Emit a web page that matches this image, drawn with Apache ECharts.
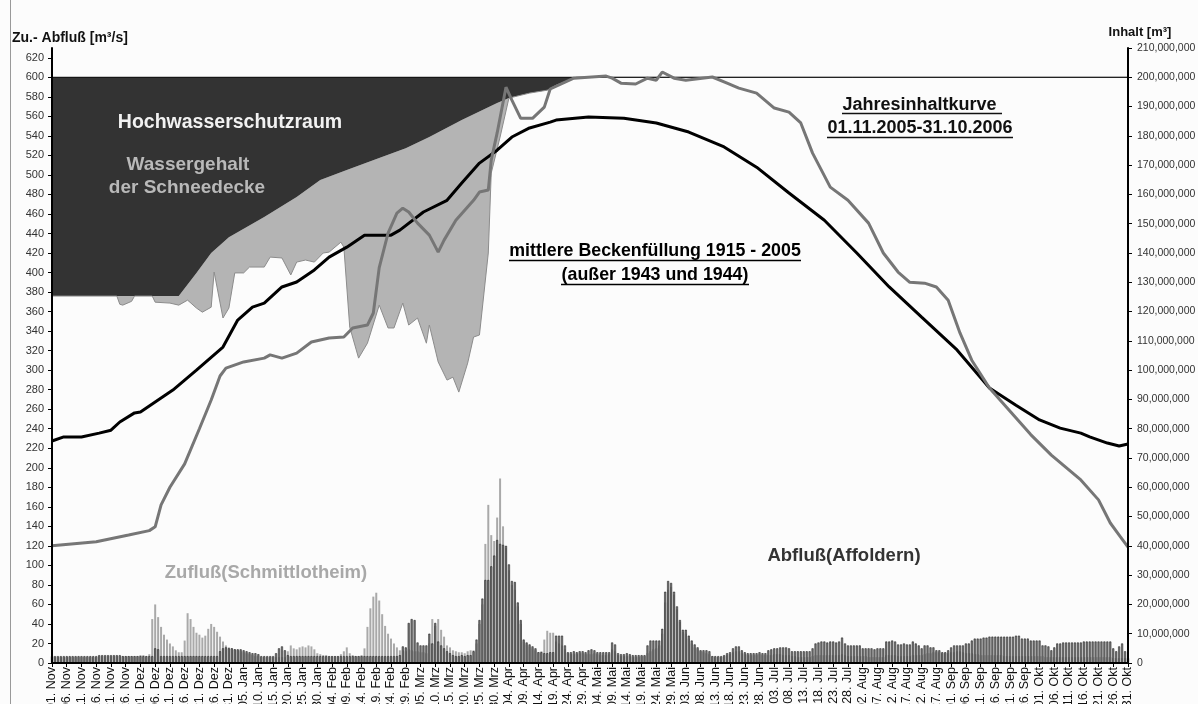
<!DOCTYPE html>
<html><head><meta charset="utf-8">
<script src="https://cdn.jsdelivr.net/npm/echarts@6/dist/echarts.min.js"></script>
<style>html,body{margin:0;padding:0;background:#fcfcfc}#c{width:1198px;height:704px}</style>
</head><body><div id="c"></div>
<script>
// ---- categories (daily, 01. Nov - 31. Okt, as in the source workbook) ----
const months = ['Nov','Dez','Jan','Feb','Mrz','Apr','Mai','Jun','Jul','Aug','Sep','Okt'];
const monthDays = [30,31,31,29,31,30,31,30,31,31,30,31];
const categories = [];
months.forEach((m,i)=>{for(let d=1; d<=monthDays[i]; d++) categories.push((d<10?'0':'')+d+'. '+m);});

// ---- Abfluß (Affoldern) m³/s, per month ----
const abflussNov = [7,7,7,7,7,7,7,7,7,7, 7,7,7,7,7,7,8,8,8,8, 8,8,8,8,7,7,7,7,7,7];
const abflussDez = [7,7,7,7,7,15,14,7,7,7, 7,7,7,7,7,7,7,7,7,7, 7,7,7,7,7,7,7,12,15,16, 15];
const abflussJan = [15,14,14,14,13,12,11,10,10,9, 7,7,7,7,7,10,15,17,13,8, 7,7,7,7,7,7,7,7,7,7, 7];
const abflussFeb = [7,7,7,7,7,7,7,7,7,7, 7,7,7,7,7,7,7,7,7,7, 7,7,7,7,7,7,8,17,16];
const abflussMrz = [41,45,44,21,18,18,18,30,20,41, 22,18,15,12,10,8,7,7,8,7, 8,8,12,24,44,66,85,85,99,110, 126];
const abflussApr = [122,121,120,101,84,83,62,44,24,21, 19,17,15,11,11,10,10,11,11,28, 28,28,18,11,11,12,11,12,12,11];
const abflussMai = [13,14,13,11,11,11,11,11,21,19, 10,9,9,10,9,8,8,8,8,8, 18,23,23,23,23,35,73,84,82,73, 58];
const abflussJun = [44,34,34,28,23,19,16,13,13,13, 12,7,7,7,7,8,10,11,15,17, 17,13,11,10,10,10,10,11,10,10];
const abflussJul = [13,14,15,15,16,16,16,15,12,12, 12,12,12,12,12,15,20,21,22,22, 21,22,22,21,22,26,20,18,18,18, 18];
const abflussAug = [18,15,15,15,15,14,15,15,15,22, 22,23,22,19,19,20,19,19,22,20, 18,15,18,18,16,16,13,13,11,11, 13];
const abflussSep = [16,18,18,18,18,20,20,23,25,25, 25,26,26,27,27,27,27,27,27,27, 27,27,28,28,25,25,25,23,23,23];
const abflussOkt = [23,18,18,17,13,16,20,20,21,21, 21,21,21,21,21,22,22,22,22,22, 22,22,22,22,22,15,12,17,20,12, 5];

// ---- Zufluß (Schmittlotheim) m³/s, per month ----
const zuflussNov = [6,6,6,6,6,6,6,6,6,6, 6,6,6,6,6,6,7,7,7,7, 7,7,7,7,7,7,7,7,7,7];
const zuflussDez = [8,8,7,9,45,60,47,37,29,24, 20,17,13,11,11,23,51,45,37,31, 29,26,28,35,40,37,32,27,22,18, 16];
const zuflussJan = [15,14,13,12,11,10,9,8,7,7, 6,6,6,6,6,6,6,6,6,12, 18,15,14,16,17,16,18,17,14,10, 9];
const zuflussFeb = [8,8,7,7,7,7,9,12,16,10, 8,7,7,8,15,37,56,68,72,64, 50,38,30,25,20,16,13,13,12];
const zuflussMrz = [14,13,12,12,11,11,10,20,45,38, 45,34,27,18,16,13,12,11,11,10, 12,13,13,20,40,60,122,162,131,125, 149];
const zuflussApr = [189,140,118,95,80,75,58,40,22,19, 17,15,13,11,12,24,33,31,31,22, 20,18,14,10,9,9,9,10,10,9];
const zuflussMai = [9,9,10,9,8,8,8,9,14,12, 8,7,7,7,7,6,6,6,7,7, 10,12,14,15,18,30,62,75,78,70, 55];
const zuflussJun = [42,32,30,25,20,16,14,12,11,10, 9,7,6,6,6,7,8,9,11,12, 12,10,9,8,8,8,8,9,8,8];
const zuflussJul = [8,8,9,9,9,8,8,8,7,7, 6,6,6,6,6,7,8,8,8,8, 8,8,8,8,8,9,8,7,7,7, 7];
const zuflussAug = [7,7,7,6,6,6,6,6,6,8, 8,8,8,7,7,7,7,7,8,8, 8,8,9,10,10,11,11,11,10,10, 10];
const zuflussSep = [11,11,12,12,11,10,10,10,9,9, 8,8,8,8,8,8,8,8,7,7, 7,7,7,7,7,7,7,7,7,7];
const zuflussOkt = [7,7,6,6,6,6,6,6,6,6, 6,6,6,6,6,6,6,6,6,6, 6,6,6,6,6,5,5,5,5,5, 5];

const abfluss = [].concat(abflussNov,abflussDez,abflussJan,abflussFeb,abflussMrz,abflussApr,abflussMai,abflussJun,abflussJul,abflussAug,abflussSep,abflussOkt);
const zufluss = [].concat(zuflussNov,zuflussDez,zuflussJan,zuflussFeb,zuflussMrz,zuflussApr,zuflussMai,zuflussJun,zuflussJul,zuflussAug,zuflussSep,zuflussOkt);

// ---- Inhalt (Mio. m³) ----
const jahresinhalt = [['01. Nov',40],['16. Nov',41.4],['27. Nov',43.7],['04. Dez',45.2],['06. Dez',46.5],['08. Dez',54],['11. Dez',60],['16. Dez',68],['21. Dez',80],['25. Dez',89.8],['28. Dez',98],['30. Dez',100.7],
 ['05. Jan',102.8],['12. Jan',104.1],['14. Jan',105.2],['18. Jan',104.1],['23. Jan',105.8],['28. Jan',109.6],['03. Feb',111],['08. Feb',111.3],['11. Feb',114.4],['16. Feb',115.4],['18. Feb',119.5],['20. Feb',135],['23. Feb',146.8],['26. Feb',153.6],['28. Feb',155.3],
 ['01. Mrz',154],['04. Mrz',150.2],['08. Mrz',146.1],['11. Mrz',140.3],['13. Mrz',144.4],['17. Mrz',151.2],['23. Mrz',158],['25. Mrz',160.8],['28. Mrz',161.5],['29. Mrz',171.7],['31. Mrz',181],
 ['03. Apr',196.6],['05. Apr',192.2],['08. Apr',186],['12. Apr',186],['16. Apr',189.8],['18. Apr',196],['26. Apr',199.7],['07. Mai',200.4],['09. Mai',199.7],['12. Mai',198],['17. Mai',197.7],['21. Mai',199.7],['24. Mai',199],['26. Mai',201.8],['30. Mai',199.7],
 ['03. Jun',199],['12. Jun',200.1],['17. Jun',198],['21. Jun',196.3],['27. Jun',194.6],['03. Jul',189.5],['08. Jul',188.1],['12. Jul',184.4],['16. Jul',174.1],['22. Jul',162.5],['28. Jul',158],
 ['04. Aug',150.2],['09. Aug',140],['14. Aug',133.5],['18. Aug',130],['23. Aug',129.7],['27. Aug',128.4],['31. Aug',123.9],['04. Sep',112.7],['08. Sep',103.4],['14. Sep',93.9],['28. Sep',78],
 ['05. Okt',71],['15. Okt',62.5],['21. Okt',55.7],['25. Okt',47.8],['28. Okt',43.7],['31. Okt',39.6]];
const mittlereFuellung = [['01. Nov',75.8],['05. Nov',77.2],['11. Nov',77.2],['17. Nov',78.5],['21. Nov',79.5],['24. Nov',82.3],['29. Nov',85.4],['01. Dez',85.7],['07. Dez',89.8],['12. Dez',93.2],['20. Dez',100],['29. Dez',107.9],
 ['03. Jan',117.1],['08. Jan',121.5],['12. Jan',122.9],['18. Jan',128.4],['23. Jan',130.1],['29. Jan',134.2],['03. Feb',138.6],['09. Feb',142],['15. Feb',146.1],['19. Feb',146.1],['24. Feb',146.1],['27. Feb',147.8],
 ['06. Mrz',154],['14. Mrz',158],['19. Mrz',163.9],['25. Mrz',170.7],['31. Mrz',175.1],['05. Apr',179.6],['11. Apr',182.7],['18. Apr',184.7],['20. Apr',185.4],['01. Mai',186.4],['13. Mai',186],['24. Mai',184.4],
 ['04. Jun',181.3],['16. Jun',176.2],['27. Jun',169.3],['08. Jul',160.5],['20. Jul',151.2],['31. Jul',140],['11. Aug',128.4],['22. Aug',118.1],['03. Sep',106.9],['14. Sep',93.9],['23. Sep',88],
 ['01. Okt',83],['08. Okt',80.2],['15. Okt',78.5],['18. Okt',77.2],['24. Okt',75.1],['28. Okt',74.1],['31. Okt',74.8]];
const hwsUnterkante = [['01. Nov',125.3],['14. Dez',125.3],['20. Dez',133.2],['25. Dez',140],['31. Dez',145.4],['12. Jan',152.3],['23. Jan',159.1],['31. Jan',164.9],['09. Feb',168.3],['20. Feb',172.4],['29. Feb',175.8],
 ['08. Mrz',179.6],['19. Mrz',185.4],['31. Mrz',191.2],['04. Apr',192.9],['11. Apr',194.6],['17. Apr',195.6],['20. Apr',197.3],['27. Apr',200]];
const schneeUnterkante = [['01. Nov',125.3],['23. Nov',125.3],['24. Nov',122.5],['25. Nov',122.2],['28. Nov',123.5],['29. Nov',125.3],['05. Dez',125.3],['06. Dez',123.2],['11. Dez',122.9],['14. Dez',122.2],['17. Dez',123.9],['20. Dez',121.2],['22. Dez',119.8],['25. Dez',121.5],['26. Dez',133.5],['29. Dez',117.8],['31. Dez',121.2],
 ['02. Jan',133.2],['05. Jan',133.2],['07. Jan',135.2],['12. Jan',135.2],['14. Jan',138.6],['18. Jan',138.3],['21. Jan',132.5],['23. Jan',136.9],['26. Jan',137.6],['29. Jan',136.9],
 ['01. Feb',140],['03. Feb',140.3],['07. Feb',143.7],['08. Feb',142],['10. Feb',114.7],['13. Feb',104.1],['16. Feb',109.2],['20. Feb',122.2],['23. Feb',114.4],['25. Feb',114.4],['28. Feb',122.9],
 ['01. Mrz',115.4],['04. Mrz',117.8],['07. Mrz',109.2],['08. Mrz',115.4],['11. Mrz',102.8],['14. Mrz',96.6],['16. Mrz',97.6],['18. Mrz',92.5],['21. Mrz',102.4],['23. Mrz',111.3],['25. Mrz',112],['28. Mrz',140],['29. Mrz',167.3],
 ['01. Apr',179.6],['04. Apr',192.9],['11. Apr',194.6],['17. Apr',195.6],['20. Apr',197.3],['27. Apr',200],['31. Okt',200]];
const stauziel = [['01. Nov',200],['31. Okt',200]];

const FONT = '"Liberation Sans", Arial, sans-serif';
const BG = '#fcfcfc';
const chart = echarts.init(document.getElementById('c'));
chart.setOption({
  animation:false,
  backgroundColor: BG,
  grid:{left:52,right:70,top:48,bottom:41,containLabel:false,outerBoundsMode:'none'},
  xAxis:{type:'category',data:categories,boundaryGap:false,z:10,
    axisLine:{lineStyle:{color:'#000',width:2}},
    axisTick:{interval:4,length:4,lineStyle:{color:'#000'}},
    axisLabel:{interval:4,rotate:90,margin:4,fontSize:12.5,color:'#111',fontFamily:FONT},
    splitLine:{show:false}},
  yAxis:[
    {type:'value',min:0,max:630,interval:20,z:10,
     axisLine:{show:true,lineStyle:{color:'#000',width:2}},
     axisTick:{show:true,length:4,lineStyle:{color:'#000'}},
     axisLabel:{showMaxLabel:false,fontSize:11,color:'#333',margin:8,fontFamily:FONT},
     splitLine:{show:false}},
    {type:'value',min:0,max:210,interval:10,z:10,position:'right',
     axisLine:{show:true,lineStyle:{color:'#000',width:2}},
     axisTick:{show:true,length:4,lineStyle:{color:'#000'}},
     axisLabel:{fontSize:10.5,color:'#333',margin:9,fontFamily:FONT,
       formatter:v=>(v*1e6).toLocaleString('en-US')},
     splitLine:{show:false}}
  ],
  series:[
    {name:'Wassergehalt der Schneedecke',type:'line',yAxisIndex:1,data:hwsUnterkante,symbol:'none',
     lineStyle:{width:0},areaStyle:{color:'#b4b4b4',opacity:1,origin:'start'},z:1},
    {name:'schnee-unterkante',type:'line',yAxisIndex:1,data:schneeUnterkante,symbol:'none',
     lineStyle:{width:1,color:'#8c8c8c'},areaStyle:{color:BG,opacity:1,origin:'start'},z:1},
    {name:'Hochwasserschutzraum',type:'line',yAxisIndex:1,data:hwsUnterkante,symbol:'none',
     lineStyle:{width:0},areaStyle:{color:'#333333',opacity:1,origin:'end'},z:1},
    {name:'Stauziel',type:'line',yAxisIndex:1,data:stauziel,symbol:'none',
     lineStyle:{width:1,color:'#000'},areaStyle:{color:BG,opacity:1,origin:'end'},z:1},
    {name:'Zufluß(Schmittlotheim)',type:'bar',yAxisIndex:0,data:zufluss,barWidth:2,barGap:'-100%',
     itemStyle:{color:'#a9a9a9'},z:2},
    {name:'Abfluß(Affoldern)',type:'bar',yAxisIndex:0,data:abfluss,barWidth:2,barGap:'-100%',
     itemStyle:{color:'#7c7c7c',borderColor:'#111',borderWidth:0.5},z:2},
    {name:'mittlere Beckenfüllung 1915 - 2005',type:'line',yAxisIndex:1,data:mittlereFuellung,symbol:'none',
     lineStyle:{width:3,color:'#000'},z:3},
    {name:'Jahresinhaltkurve',type:'line',yAxisIndex:1,data:jahresinhalt,symbol:'none',
     lineStyle:{width:3,color:'#767676'},z:3}
  ],
  graphic:[
    {type:'line',shape:{x1:10.5,y1:0,x2:10.5,y2:704},style:{stroke:'#999',lineWidth:1},z:20},
    {type:'text',x:12,y:38,style:{text:'Zu.- Abfluß [m³/s]',font:'bold 14px '+FONT,fill:'#111',textVerticalAlign:'middle'},z:20},
    {type:'text',x:1140,y:32,style:{text:'Inhalt [m³]',font:'bold 13px '+FONT,fill:'#111',textAlign:'center',textVerticalAlign:'middle'},z:20},
    {type:'text',x:230,y:123,style:{text:'Hochwasserschutzraum',font:'bold 19.5px '+FONT,fill:'#f2f2f2',textAlign:'center',textVerticalAlign:'middle'},z:20},
    {type:'text',x:188,y:165,style:{text:'Wassergehalt',font:'bold 19px '+FONT,fill:'#b9b9b9',textAlign:'center',textVerticalAlign:'middle'},z:20},
    {type:'text',x:187,y:188,style:{text:'der Schneedecke',font:'bold 19px '+FONT,fill:'#b9b9b9',textAlign:'center',textVerticalAlign:'middle'},z:20},
    {type:'text',x:655,y:251,style:{text:'mittlere Beckenfüllung 1915 - 2005',font:'bold 17.8px '+FONT,fill:'#000',textAlign:'center',textVerticalAlign:'middle'},z:20},
    {type:'text',x:655,y:275,style:{text:'(außer 1943 und 1944)',font:'bold 17.8px '+FONT,fill:'#000',textAlign:'center',textVerticalAlign:'middle'},z:20},
    {type:'line',shape:{x1:509,y1:260.5,x2:801,y2:260.5},style:{stroke:'#000',lineWidth:1.4},z:20},
    {type:'line',shape:{x1:561,y1:284.5,x2:749,y2:284.5},style:{stroke:'#000',lineWidth:1.4},z:20},
    {type:'text',x:922,y:105,style:{text:'Jahresinhaltkurve ',font:'bold 18px '+FONT,fill:'#111',textAlign:'center',textVerticalAlign:'middle'},z:20},
    {type:'text',x:920,y:128,style:{text:'01.11.2005-31.10.2006',font:'bold 18px '+FONT,fill:'#111',textAlign:'center',textVerticalAlign:'middle'},z:20},
    {type:'line',shape:{x1:842,y1:113.5,x2:1002,y2:113.5},style:{stroke:'#111',lineWidth:1.4},z:20},
    {type:'line',shape:{x1:827,y1:137.5,x2:1013,y2:137.5},style:{stroke:'#111',lineWidth:1.4},z:20},
    {type:'text',x:266,y:573,style:{text:'Zufluß(Schmittlotheim)',font:'bold 18.5px '+FONT,fill:'#a8a8a8',textAlign:'center',textVerticalAlign:'middle'},z:20},
    {type:'text',x:844,y:556,style:{text:'Abfluß(Affoldern)',font:'bold 18.5px '+FONT,fill:'#333',textAlign:'center',textVerticalAlign:'middle'},z:20}
  ]
});
</script></body></html>
